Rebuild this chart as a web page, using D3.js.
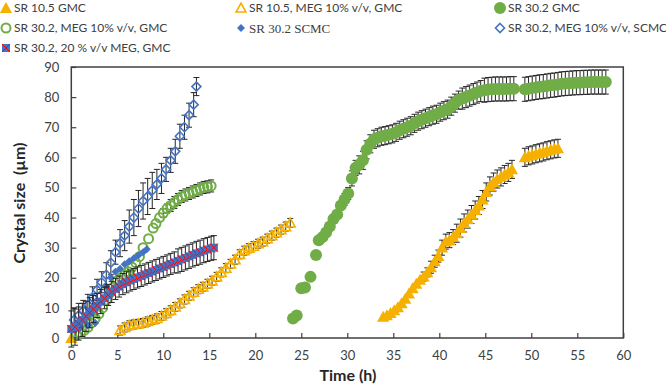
<!DOCTYPE html>
<html>
<head>
<meta charset="utf-8">
<script src="https://cdn.jsdelivr.net/npm/d3@7"></script>
<style>
  body { margin: 0; background: #fff; }
  svg { display: block; }
</style>
</head>
<body>
<div id="chart"></div>
<script>
// SR 10.5 GMC (filled orange triangles)
let tA = [0, 33.9, 34.3, 34.7, 35.1, 35.5, 35.9, 36.3, 36.7, 37.1, 37.5, 37.9, 38.3, 38.7, 39.1, 39.5, 39.9, 40.3, 40.7, 41.1, 41.5, 41.9, 42.3, 42.7, 43.1, 43.5, 43.9, 44.3, 44.7, 45.1, 45.5, 45.9, 46.3, 46.7, 47.1, 47.5, 47.9, 49.3, 49.7, 50.1, 50.5, 50.9, 51.3, 51.7, 52.1, 52.5, 52.9]
let vA = [0, 7, 7.5, 8.3, 9.2, 10.2, 11.5, 13, 14.8, 16.5, 18, 19.3, 20.4, 21.8, 23.5, 25.5, 27.2, 30, 32, 32.5, 33.5, 34.8, 36.5, 38.2, 39.5, 41, 42.5, 44, 46, 48.5, 50.5, 51.8, 52.8, 53.5, 54.3, 55, 56, 60, 60.5, 60.8, 61.2, 61.5, 61.8, 62.2, 62.5, 62.8, 63]
let eA = [0, 0, 0, 0, 0, 0, 0, 0, 0, 0, 0, 0, 1.5, 1.5, 2, 2, 2, 2.5, 2.5, 2.5, 2.5, 3, 3, 3, 3, 3, 3, 3, 3, 3, 3, 3, 3, 3, 3, 3, 3, 3, 3, 3, 3, 3, 3, 3, 3, 3, 3]

// SR 10.5, MEG 10% v/v, GMC (open orange triangles)
let tB = [5.3, 5.8, 6.3, 6.8, 7.3, 7.8, 8.3, 8.8, 9.3, 9.8, 10.3, 10.8, 11.3, 11.8, 12.3, 12.8, 13.3, 13.8, 14.3, 14.8, 15.3, 15.8, 16.3, 16.8, 17.3, 17.8, 18.3, 18.8, 19.3, 19.8, 20.3, 20.8, 21.3, 21.8, 22.3, 22.8, 23.3, 23.8]
let vB = [2.5, 3.5, 4.2, 4.5, 4.7, 5, 5.5, 6, 6.5, 7.3, 8.2, 9.2, 10.3, 11.5, 12.8, 14, 15.2, 16.2, 17, 18, 19, 20.3, 21.8, 23.2, 24.6, 26, 27.8, 29, 29.8, 30.5, 31.3, 32, 33, 34, 35, 36, 37, 38.2]
let eB = [1.5, 1.5, 1.5, 1.5, 1.5, 1.5, 1.5, 1.5, 1.5, 1.5, 1.5, 1.5, 1.5, 1.5, 1.5, 1.5, 1.5, 1.5, 1.5, 1.5, 1.5, 1.5, 1.5, 1.5, 1.5, 1.5, 1.5, 1.5, 1.5, 1.5, 1.5, 1.5, 1.5, 1.5, 1.5, 1.5, 1.5, 1.5]

// SR 30.2 GMC (filled green circles)
let tC = [24.1, 24.5, 25.0, 25.4, 26.0, 26.6, 26.9, 27.3, 27.7, 28.1, 28.5, 28.9, 29.3, 29.7, 30.1, 30.5, 30.9, 31.3, 31.7, 32.1, 32.5, 32.9, 33.3, 33.7, 34.1, 34.5, 34.9, 35.3, 35.7, 36.1, 36.5, 36.9, 37.3, 37.7, 38.1, 38.5, 38.9, 39.3, 39.7, 40.1, 40.5, 40.9, 41.3, 41.7, 42.1, 42.5, 42.9, 43.3, 43.7, 44.1, 44.5, 44.9, 45.3, 45.7, 46.1, 46.5, 46.9, 47.3, 47.7, 48.1, 49.3, 49.7, 50.1, 50.5, 50.9, 51.3, 51.7, 52.1, 52.5, 52.9, 53.3, 53.7, 54.1, 54.5, 54.9, 55.3, 55.7, 56.1, 56.5, 56.9, 57.3, 57.7, 58.1]
let vC = [6.5, 7.5, 16.5, 16.8, 20.3, 27.6, 32.5, 33.5, 35, 37, 39.5, 41, 44, 46, 48, 53, 56.5, 57.5, 59, 62.5, 64.5, 66, 66.5, 67, 67.2, 67.5, 67.8, 68.3, 69, 69.5, 70, 70.5, 71.3, 72, 72.5, 73, 73.5, 74, 74.3, 75, 75.5, 76, 77, 78, 79, 79.5, 80, 80.5, 81, 81.5, 82, 82.3, 82.5, 82.6, 82.7, 82.7, 82.7, 82.7, 82.8, 82.8, 82.6, 82.8, 83, 83.2, 83.4, 83.5, 83.7, 83.9, 84, 84.2, 84.4, 84.5, 84.6, 84.7, 84.8, 84.8, 84.9, 84.9, 85, 85, 85, 85, 85]
let eC = [0, 0, 0, 0, 0, 0, 0, 0, 0, 0, 0, 0, 0, 2, 2, 2.5, 2.5, 3, 3, 3, 3, 3, 3, 3, 3, 3, 3, 3, 3, 3, 3, 3, 3, 3, 3, 3, 3, 3, 3, 3, 3, 3, 3, 3, 3, 3.5, 3.5, 3.5, 3.5, 3.5, 3.5, 4, 4, 4, 4, 4, 4, 4, 4, 4, 4, 4, 4, 4, 4, 4, 4, 4, 4, 4, 4, 4, 4, 4, 4, 4, 4, 4, 4, 4, 4, 4, 4]

// SR 30.2, MEG 10% v/v, GMC (open green circles)
let tD = [0.6, 1.0, 1.4, 1.8, 2.2, 2.6, 3.0, 3.4, 3.8, 4.2, 4.6, 5.0, 5.4, 5.8, 6.2, 6.6, 7.0, 7.4, 7.8, 8.4, 8.9, 9.2, 9.6, 10.0, 10.4, 10.8, 11.2, 11.6, 12.0, 12.4, 12.8, 13.2, 13.6, 14.0, 14.4, 14.8, 15.2]
let vD = [1, 1.5, 2.5, 3.5, 5, 6.5, 8, 10, 12.5, 15, 17, 19, 20, 21, 22, 23.5, 25, 27, 30, 33, 36.5, 38, 40, 41.5, 43, 44, 45, 46, 47, 47.5, 48, 48.5, 49, 49.5, 50, 50.2, 50.5]
let eD = [0, 0, 0, 0, 0, 0, 0, 0, 0, 0, 0, 0, 0, 0, 0, 0, 0, 0, 0, 0, 0, 0, 0, 1.5, 1.5, 2, 2, 2, 2, 2, 2, 2, 2, 2, 2, 2, 2]

// SR 30.2 SCMC (filled blue diamonds)
let tE = [0.3, 1.0, 1.8, 2.6, 3.3, 3.8, 4.3, 4.8, 5.3, 5.8, 6.3, 6.8, 7.3, 7.8, 8.2]
let vE = [3, 3.5, 4.2, 5, 12, 17, 20, 22, 23, 24.5, 25.5, 26.5, 27.5, 28.5, 29.5]

// SR 30.2, MEG 10% v/v, SCMC (open blue diamonds)
let tF = [0.3, 0.8, 1.3, 1.8, 2.3, 2.8, 3.3, 3.8, 4.3, 4.8, 5.3, 5.8, 6.3, 6.8, 7.3, 7.8, 8.3, 8.8, 9.3, 9.8, 10.3, 10.8, 11.3, 11.8, 12.3, 12.8, 13.3, 13.6]
let vF = [6, 7.5, 9, 11, 13.5, 16, 18.5, 21, 25, 28.5, 31.5, 34, 37, 40, 43, 45.5, 47, 49, 51, 53, 56, 59, 62, 67, 70, 74, 77.5, 83.5]
let eF = [4, 4, 3.5, 3.5, 3.5, 3.5, 3.5, 4, 4, 4, 4.5, 5, 5.5, 6, 6, 6, 6, 6, 5, 5, 4, 4, 4, 4, 4, 4, 4, 3]

// SR 30.2, 20 % v/v MEG, GMC (blue squares with red cross)
let tG = [0, 0.4, 0.8, 1.2, 1.6, 2.0, 2.4, 2.8, 3.2, 3.6, 4.0, 4.4, 4.8, 5.2, 5.6, 6.0, 6.4, 6.8, 7.2, 7.6, 8.0, 8.4, 8.8, 9.2, 9.6, 10.0, 10.4, 10.8, 11.2, 11.6, 12.0, 12.4, 12.8, 13.2, 13.6, 14.0, 14.4, 14.8, 15.2, 15.5]
let vG = [3, 3.6, 4.8, 6, 7.2, 8.4, 9.6, 10.8, 12.1, 13.2, 14.3, 15.3, 16.3, 17.1, 17.9, 18.5, 19.1, 19.6, 20.1, 20.6, 21.1, 21.6, 22.1, 22.6, 23.1, 23.6, 24.1, 24.6, 25.1, 25.6, 26.1, 26.6, 27.1, 27.6, 28.1, 28.5, 29, 29.4, 29.8, 30]
let eG = [6, 6, 5.5, 5.5, 5, 5, 4.5, 4, 4, 3.5, 3.5, 3.5, 3.5, 3.5, 3.5, 3.5, 3.5, 3.5, 3.5, 3.5, 3.5, 3.5, 3.5, 3.5, 3.5, 3.5, 3.5, 3.5, 3.5, 4, 4, 4, 4, 4, 4, 4, 4, 4, 4, 4]

let xTicks = [0, 5, 10, 15, 20, 25, 30, 35, 40, 45, 50, 55, 60]
let yTicks = [0, 10, 20, 30, 40, 50, 60, 70, 80, 90]

let orange = '#F5B000'
let green = '#70AD47'
let blue = '#4472C4'
let red = '#FF0000'
let ink = '#404040'

let width = 666
let height = 387

let svg = d3
  .select('#chart')
  .append('svg')
  .attr('width', width)
  .attr('height', height)

let x = d3.scaleLinear().domain([0, 60]).range([71.3, 623.3])
let y = d3.scaleLinear().domain([0, 90]).range([338, 67])

let font = 'Lato, "Open Sans", sans-serif'

// plot frame
svg
  .append('rect')
  .attr('x', x(0))
  .attr('y', y(90))
  .attr('width', x(60) - x(0))
  .attr('height', y(0) - y(90))
  .attr('fill', 'none')
  .attr('stroke', ink)
  .attr('stroke-width', 1.5)

let xAxis = svg
  .append('g')
  .attr('transform', `translate(0,${y(0)})`)
  .call(d3.axisBottom(x).tickValues(xTicks).tickSizeInner(-5).tickSizeOuter(0).tickPadding(13))
xAxis.select('.domain').remove()
xAxis.selectAll('line').attr('stroke', ink).attr('stroke-width', 1.2)
xAxis.selectAll('text').attr('font-family', font).attr('font-size', 13).attr('fill', ink)

let yAxis = svg
  .append('g')
  .attr('transform', `translate(${x(0)},0)`)
  .call(d3.axisLeft(y).tickValues(yTicks).tickSizeInner(-5).tickSizeOuter(0).tickPadding(12))
yAxis.select('.domain').remove()
yAxis.selectAll('line').attr('stroke', ink).attr('stroke-width', 1.2)
yAxis.selectAll('text').attr('font-family', font).attr('font-size', 13).attr('fill', ink)

svg
  .append('text')
  .text('Time (h)')
  .attr('x', 348)
  .attr('y', 381)
  .attr('text-anchor', 'middle')
  .attr('font-family', font)
  .attr('font-weight', 'bold')
  .attr('font-size', 16)
  .attr('fill', '#262626')

svg
  .append('text')
  .text('Crystal size  (\u00b5m)')
  .attr('transform', 'translate(25,203) rotate(-90)')
  .attr('text-anchor', 'middle')
  .attr('font-family', font)
  .attr('font-weight', 'bold')
  .attr('font-size', 16)
  .attr('fill', '#262626')
  .style('white-space', 'pre')

// marker shapes
function triangle(s) {
  return `M0,${-s * 0.55}L${s * 0.55},${s * 0.45}L${-s * 0.55},${s * 0.45}Z`
}
function diamond(s) {
  return `M0,${-s / 2}L${s / 2},0L0,${s / 2}L${-s / 2},0Z`
}

function zip(ts, vs, es) {
  return ts.map((t, i) => ({ t: t, v: vs[i], e: es ? es[i] : 0 }))
}

function errorBars(data) {
  let g = svg.append('g')
  data
    .filter(d => d.e > 0)
    .forEach(d => {
      let cx = x(d.t)
      let y1 = y(d.v + d.e)
      let y2 = y(d.v - d.e)
      g.append('path')
        .attr('d', `M${cx},${y1}V${y2}M${cx - 3},${y1}H${cx + 3}M${cx - 3},${y2}H${cx + 3}`)
        .attr('stroke', '#262626')
        .attr('stroke-width', 1)
        .attr('fill', 'none')
    })
}

function points(data, draw) {
  let g = svg.append('g')
  g.selectAll('.pt')
    .data(data)
    .enter()
    .append('g')
    .attr('class', 'pt')
    .attr('transform', d => `translate(${x(d.t)},${y(d.v)})`)
    .each(function() {
      draw(d3.select(this))
    })
}

let drawA = g => g.append('path').attr('d', triangle(11)).attr('fill', orange)
let drawB = g =>
  g.append('path').attr('d', triangle(9)).attr('fill', 'none').attr('stroke', orange).attr('stroke-width', 1.6)
let drawC = g => g.append('circle').attr('r', 6).attr('fill', green)
let drawD = g =>
  g.append('circle').attr('r', 4.5).attr('fill', 'none').attr('stroke', green).attr('stroke-width', 2)
let drawE = g => g.append('path').attr('d', diamond(8)).attr('fill', blue)
let drawF = g =>
  g.append('path').attr('d', diamond(9)).attr('fill', 'none').attr('stroke', blue).attr('stroke-width', 1.6)
let drawG = g => {
  g.append('rect').attr('x', -4).attr('y', -4).attr('width', 8).attr('height', 8).attr('fill', blue)
  g.append('path').attr('d', 'M-4,-4L4,4M-4,4L4,-4').attr('stroke', red).attr('stroke-width', 1)
}

let dA = zip(tA, vA, eA)
let dB = zip(tB, vB, eB)
let dC = zip(tC, vC, eC)
let dD = zip(tD, vD, eD)
let dE = zip(tE, vE)
let dF = zip(tF, vF, eF)
let dG = zip(tG, vG, eG)

errorBars(dA)
points(dA, drawA)
errorBars(dB)
points(dB, drawB)
errorBars(dC)
points(dC, drawC)
errorBars(dD)
points(dD, drawD)
points(dE, drawE)
errorBars(dF)
points(dF, drawF)
errorBars(dG)
points(dG, drawG)

// legend
let legendItems = [
  { label: 'SR 10.5 GMC', draw: drawA, x: 6, y: 8 },
  { label: 'SR 10.5, MEG 10% v/v, GMC', draw: drawB, x: 241, y: 8 },
  { label: 'SR 30.2 GMC', draw: drawC, x: 500, y: 8 },
  { label: 'SR 30.2, MEG 10% v/v, GMC', draw: drawD, x: 6, y: 28 },
  { label: 'SR 30.2 SCMC', draw: drawE, x: 241, y: 28, serif: true },
  { label: 'SR 30.2, MEG 10% v/v, SCMC', draw: drawF, x: 500, y: 28 },
  { label: 'SR 30.2, 20 % v/v MEG, GMC', draw: drawG, x: 6, y: 48 }
]

let legend = svg
  .selectAll('.legend-entry')
  .data(legendItems)
  .enter()
  .append('g')
  .attr('class', 'legend-entry')
  .attr('transform', d => `translate(${d.x},${d.y})`)
  .each(function(d) {
    let g = d3.select(this)
    d.draw(g.append('g'))
    g.append('text')
      .text(d.label)
      .attr('x', 8)
      .attr('dy', '0.35em')
      .attr('font-family', d.serif ? '"Liberation Serif", serif' : font)
      .attr('font-size', d.serif ? 13 : 12)
      .attr('fill', ink)
  })
</script>
</body>
</html>
